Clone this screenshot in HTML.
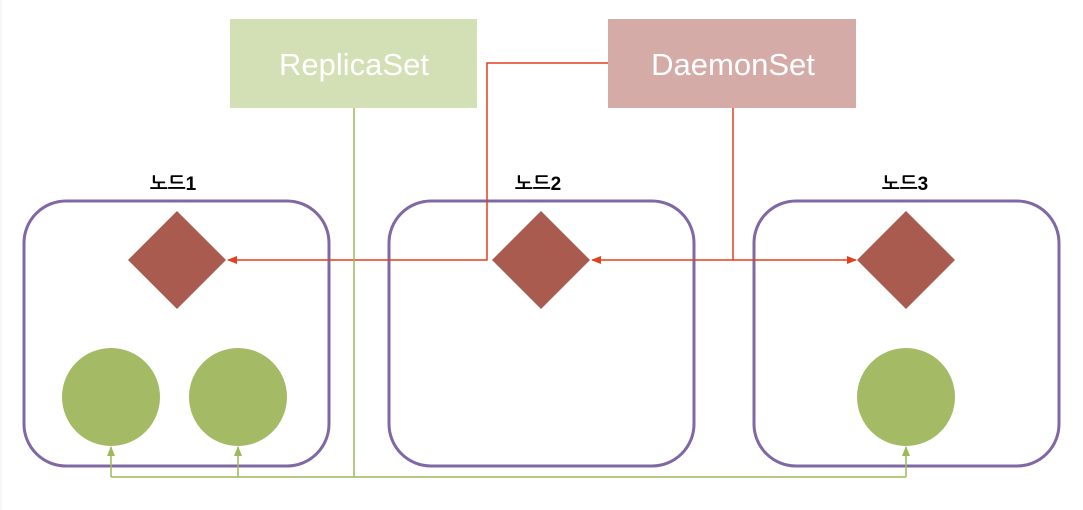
<!DOCTYPE html>
<html><head><meta charset="utf-8"><style>body{margin:0;background:#fff}svg{display:block}</style></head><body>
<svg width="1083" height="510" viewBox="0 0 1083 510" xmlns="http://www.w3.org/2000/svg">
<defs>
<marker id="ar" markerWidth="10" markerHeight="10" refX="9" refY="5" orient="auto" markerUnits="userSpaceOnUse"><path d="M0,1 L10,5 L0,9 Z" fill="#e2401f"/></marker>
<marker id="ag" markerWidth="10" markerHeight="10" refX="9" refY="5" orient="auto" markerUnits="userSpaceOnUse"><path d="M0,1 L10,5 L0,9 Z" fill="#9bbb59"/></marker>
</defs>
<rect x="0.5" y="0" width="1" height="510" fill="#eef0f2"/>
<g fill="none" stroke="#7f68a4" stroke-width="3">
<rect x="24" y="201" width="305" height="265" rx="42"/>
<rect x="389" y="201" width="305" height="265" rx="42"/>
<rect x="754" y="201" width="305" height="265" rx="42"/>
</g>
<g font-family="'Liberation Sans','NanumGothic','Noto Sans CJK KR',sans-serif" font-weight="bold" font-size="19" text-anchor="middle" fill="#000">
<text x="173" y="190">노드1</text>
<text x="538" y="190">노드2</text>
<text x="905" y="190">노드3</text>
</g>
<g fill="#a95b4f">
<path d="M177,211 L226,260 L177,309 L128,260 Z"/>
<path d="M541,211 L590,260 L541,309 L492,260 Z"/>
<path d="M906,211 L955,260 L906,309 L857,260 Z"/>
</g>
<g fill="#a5ba65">
<circle cx="111" cy="397" r="49"/>
<circle cx="238" cy="397" r="49"/>
<circle cx="906" cy="397" r="49"/>
</g>
<rect x="230" y="19" width="247" height="89" fill="#d3e0b5"/>
<rect x="608" y="19" width="248" height="89" fill="#d5aba7"/>
<g font-family="'Liberation Sans',sans-serif" font-size="31" fill="#fff" text-anchor="middle">
<text x="354" y="75">ReplicaSet</text>
<text x="733" y="75">DaemonSet</text>
</g>
<g fill="none" stroke="#e2401f" stroke-width="1.5">
<path d="M608,63 H487 V260 H228" marker-end="url(#ar)"/>
<path d="M733,108 V260 H592" marker-end="url(#ar)"/>
<path d="M733,260 H856" marker-end="url(#ar)"/>
</g>
<g fill="none" stroke="#9bbb59" stroke-width="1.5">
<path d="M354,108 V477"/>
<path d="M111,477 H906"/>
<path d="M111,477 V447" marker-end="url(#ag)"/>
<path d="M238,477 V447" marker-end="url(#ag)"/>
<path d="M906,477 V447" marker-end="url(#ag)"/>
</g>
</svg>
</body></html>
